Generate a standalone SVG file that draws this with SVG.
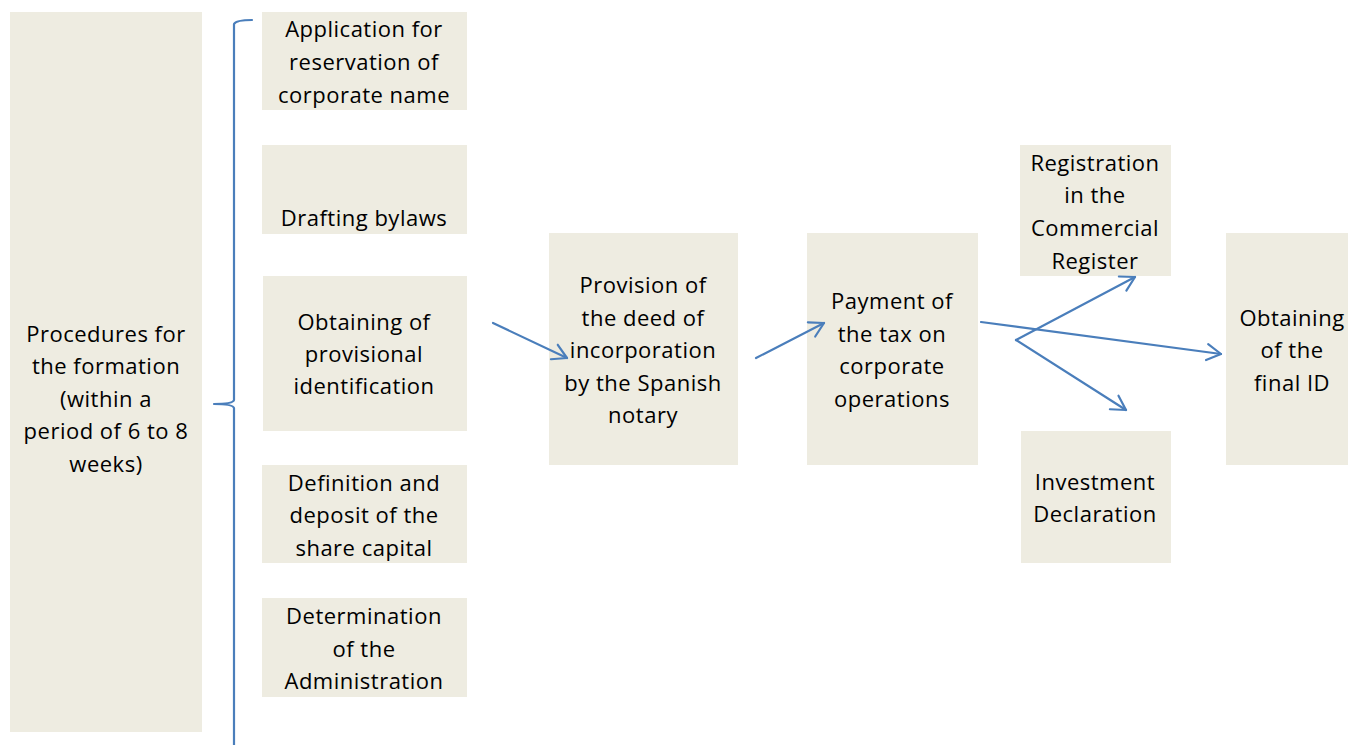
<svg xmlns="http://www.w3.org/2000/svg" width="1348" height="745" viewBox="0 0 1348 745">
<defs>
<style>
.box{fill:#eeece1}
.t{font-family:"Open Sans","Liberation Sans",sans-serif;font-size:22px;letter-spacing:0.5px;fill:#000;text-anchor:middle}
.ln{fill:none;stroke:#4a7ebb;stroke-width:2.2;stroke-linecap:round;stroke-linejoin:round}
</style>
<marker id="ah" markerUnits="userSpaceOnUse" markerWidth="20" markerHeight="20" viewBox="0 0 20 20" refX="17" refY="10" orient="auto">
<path d="M3,2 L17,10 L3,18" fill="none" stroke="#4a7ebb" stroke-width="2.2" stroke-linecap="round" stroke-linejoin="round"/>
</marker>
</defs>
<rect width="1348" height="745" fill="#fff"/>
<g id="n-formation"><rect class="box" x="10" y="12" width="192" height="720"/>
<text class="t" x="106" y="342">Procedures for</text><text class="t" x="106" y="374">the formation</text><text class="t" x="106" y="407">(within a</text><text class="t" x="106" y="439">period of 6 to 8</text><text class="t" x="106" y="472">weeks)</text></g>
<g id="n-application"><rect class="box" x="262" y="12" width="205" height="98"/>
<text class="t" x="364" y="37">Application for</text><text class="t" x="364" y="70">reservation of</text><text class="t" x="364" y="103">corporate name</text></g>
<g id="n-bylaws"><rect class="box" x="262" y="145" width="205" height="89"/>
<text class="t" x="364" y="226">Drafting bylaws</text></g>
<g id="n-provisional"><rect class="box" x="263" y="276" width="204" height="155"/>
<text class="t" x="364" y="330">Obtaining of</text><text class="t" x="364" y="362">provisional</text><text class="t" x="364" y="394">identification</text></g>
<g id="n-capital"><rect class="box" x="262" y="465" width="205" height="98"/>
<text class="t" x="364" y="491">Definition and</text><text class="t" x="364" y="523">deposit of the</text><text class="t" x="364" y="556">share capital</text></g>
<g id="n-administration"><rect class="box" x="262" y="598" width="205" height="99"/>
<text class="t" x="364" y="624">Determination</text><text class="t" x="364" y="657">of the</text><text class="t" x="364" y="689">Administration</text></g>
<g id="n-deed"><rect class="box" x="549" y="233" width="189" height="232"/>
<text class="t" x="643" y="293">Provision of</text><text class="t" x="643" y="326">the deed of</text><text class="t" x="643" y="358">incorporation</text><text class="t" x="643" y="391">by the Spanish</text><text class="t" x="643" y="423">notary</text></g>
<g id="n-tax"><rect class="box" x="807" y="233" width="171" height="232"/>
<text class="t" x="892" y="309">Payment of</text><text class="t" x="892" y="342">the tax on</text><text class="t" x="892" y="374">corporate</text><text class="t" x="892" y="407">operations</text></g>
<g id="n-registration"><rect class="box" x="1020" y="145" width="151" height="131"/>
<text class="t" x="1095" y="171">Registration</text><text class="t" x="1095" y="203">in the</text><text class="t" x="1095" y="236">Commercial</text><text class="t" x="1095" y="269">Register</text></g>
<g id="n-investment"><rect class="box" x="1021" y="431" width="150" height="132"/>
<text class="t" x="1095" y="490">Investment</text><text class="t" x="1095" y="522">Declaration</text></g>
<g id="n-final"><rect class="box" x="1226" y="233" width="122" height="232"/>
<text class="t" x="1292" y="326">Obtaining</text><text class="t" x="1292" y="358">of the</text><text class="t" x="1292" y="391">final ID</text></g>
<g id="connectors">
<path class="ln" d="M252,20 Q236,20 234,24 L234,400 Q233,404 214,404 Q233,404 234,408 L234,745"/>
<line class="ln" x1="493" y1="323" x2="567" y2="358" marker-end="url(#ah)"/>
<line class="ln" x1="756" y1="358" x2="824" y2="323" marker-end="url(#ah)"/>
<line class="ln" x1="981" y1="322" x2="1221" y2="354" marker-end="url(#ah)"/>
<line class="ln" x1="1016" y1="340" x2="1135" y2="277" marker-end="url(#ah)"/>
<line class="ln" x1="1016" y1="340" x2="1126" y2="410" marker-end="url(#ah)"/>
</g>
</svg>
